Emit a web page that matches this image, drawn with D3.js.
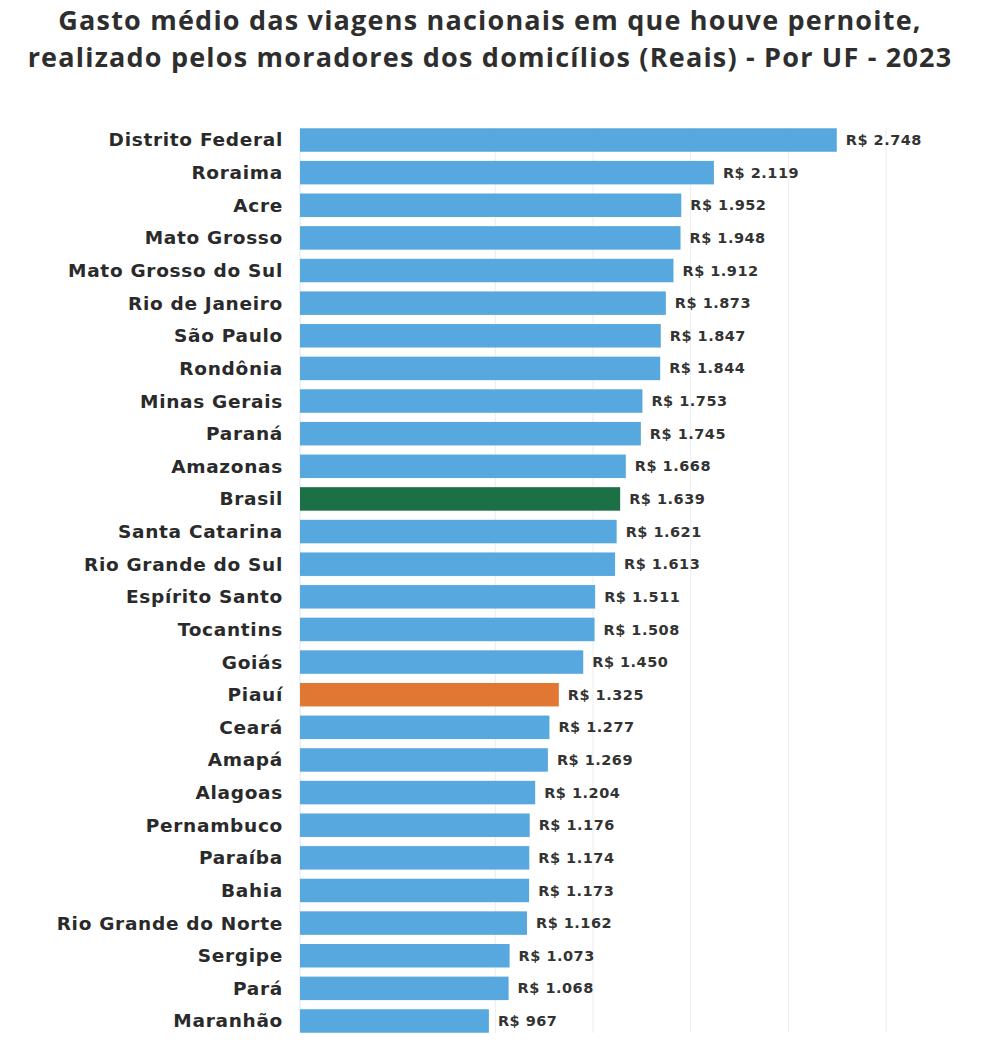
<!DOCTYPE html>
<html>
<head>
<meta charset="utf-8">
<script src="https://cdn.jsdelivr.net/npm/d3@7"></script>
<style>
  html, body { margin: 0; padding: 0; background: #ffffff; }
  svg { display: block; }
</style>
</head>
<body>
<svg id="chart" width="1000" height="1049"></svg>
<script>
const titleLines = [
  "Gasto médio das viagens nacionais em que houve pernoite,",
  "realizado pelos moradores dos domicílios (Reais) - Por UF - 2023"
];
const categories = [
  "Distrito Federal", "Roraima", "Acre", "Mato Grosso", "Mato Grosso do Sul",
  "Rio de Janeiro", "São Paulo", "Rondônia", "Minas Gerais", "Paraná",
  "Amazonas", "Brasil", "Santa Catarina", "Rio Grande do Sul", "Espírito Santo",
  "Tocantins", "Goiás", "Piauí", "Ceará", "Amapá", "Alagoas", "Pernambuco",
  "Paraíba", "Bahia", "Rio Grande do Norte", "Sergipe", "Pará", "Maranhão"
];
const values = [
  2748, 2119, 1952, 1948, 1912, 1873, 1847, 1844, 1753, 1745,
  1668, 1639, 1621, 1613, 1511, 1508, 1450, 1325, 1277, 1269,
  1204, 1176, 1174, 1173, 1162, 1073, 1068, 967
];
const gridTicks = [1000, 1500, 2000, 2500, 3000];
const highlight = { "Brasil": "#1b7045", "Piauí": "#e07833" };

const data = categories.map((c, i) => ({ name: c, value: values[i] }));
const svg = d3.select("#chart");

const x = d3.scaleLinear().domain([0, 3000]).range([300, 886]);
const y = d3.scaleBand().domain(categories).range([123.7, 1037.3])
  .paddingInner(0.28).paddingOuter(0.14);

// title
svg.append("g").selectAll("text").data(titleLines).join("text")
  .attr("x", 490).attr("y", (d, i) => 30 + i * 37)
  .attr("text-anchor", "middle")
  .attr("font-family", "'Open Sans', sans-serif")
  .attr("font-weight", 700)
  .attr("font-size", 27)
  .attr("letter-spacing", 1.2)
  .attr("fill", "#2e2e2e")
  .text(d => d);

// grid
const y0 = y(categories[0]);
const y1 = y(categories[categories.length - 1]) + y.bandwidth();
svg.append("g").selectAll("line").data(gridTicks).join("line")
  .attr("x1", d => x(d)).attr("x2", d => x(d))
  .attr("y1", y0).attr("y2", y1)
  .attr("stroke", "#ececec").attr("stroke-width", 1);

// axis line
svg.append("line")
  .attr("x1", x(0)).attr("x2", x(0)).attr("y1", y0).attr("y2", y1)
  .attr("stroke", "#d6e8f5").attr("stroke-width", 1);

// bars
svg.append("g").selectAll("rect").data(data).join("rect")
  .attr("x", x(0))
  .attr("y", d => y(d.name))
  .attr("width", d => x(d.value) - x(0))
  .attr("height", y.bandwidth())
  .attr("fill", d => highlight[d.name] || "#56a8de");

// category labels
svg.append("g").selectAll("text").data(data).join("text")
  .attr("x", 283)
  .attr("y", d => y(d.name) + y.bandwidth() / 2)
  .attr("dy", "0.35em")
  .attr("text-anchor", "end")
  .attr("font-family", "'DejaVu Sans', Verdana, sans-serif")
  .attr("font-weight", 700)
  .attr("font-size", 18.5)
  .attr("letter-spacing", 0.7)
  .attr("fill", "#2a2a2a")
  .text(d => d.name);

// value labels
const fmt = v => "R$ " + d3.format(",")(v).replace(/,/g, ".");
svg.append("g").selectAll("text").data(data).join("text")
  .attr("x", d => x(d.value) + 9)
  .attr("y", d => y(d.name) + y.bandwidth() / 2)
  .attr("dy", "0.35em")
  .attr("font-family", "'DejaVu Sans', Verdana, sans-serif")
  .attr("font-weight", 700)
  .attr("font-size", 14.5)
  .attr("letter-spacing", 0.5)
  .attr("fill", "#333333")
  .text(d => fmt(d.value));
</script>
</body>
</html>
